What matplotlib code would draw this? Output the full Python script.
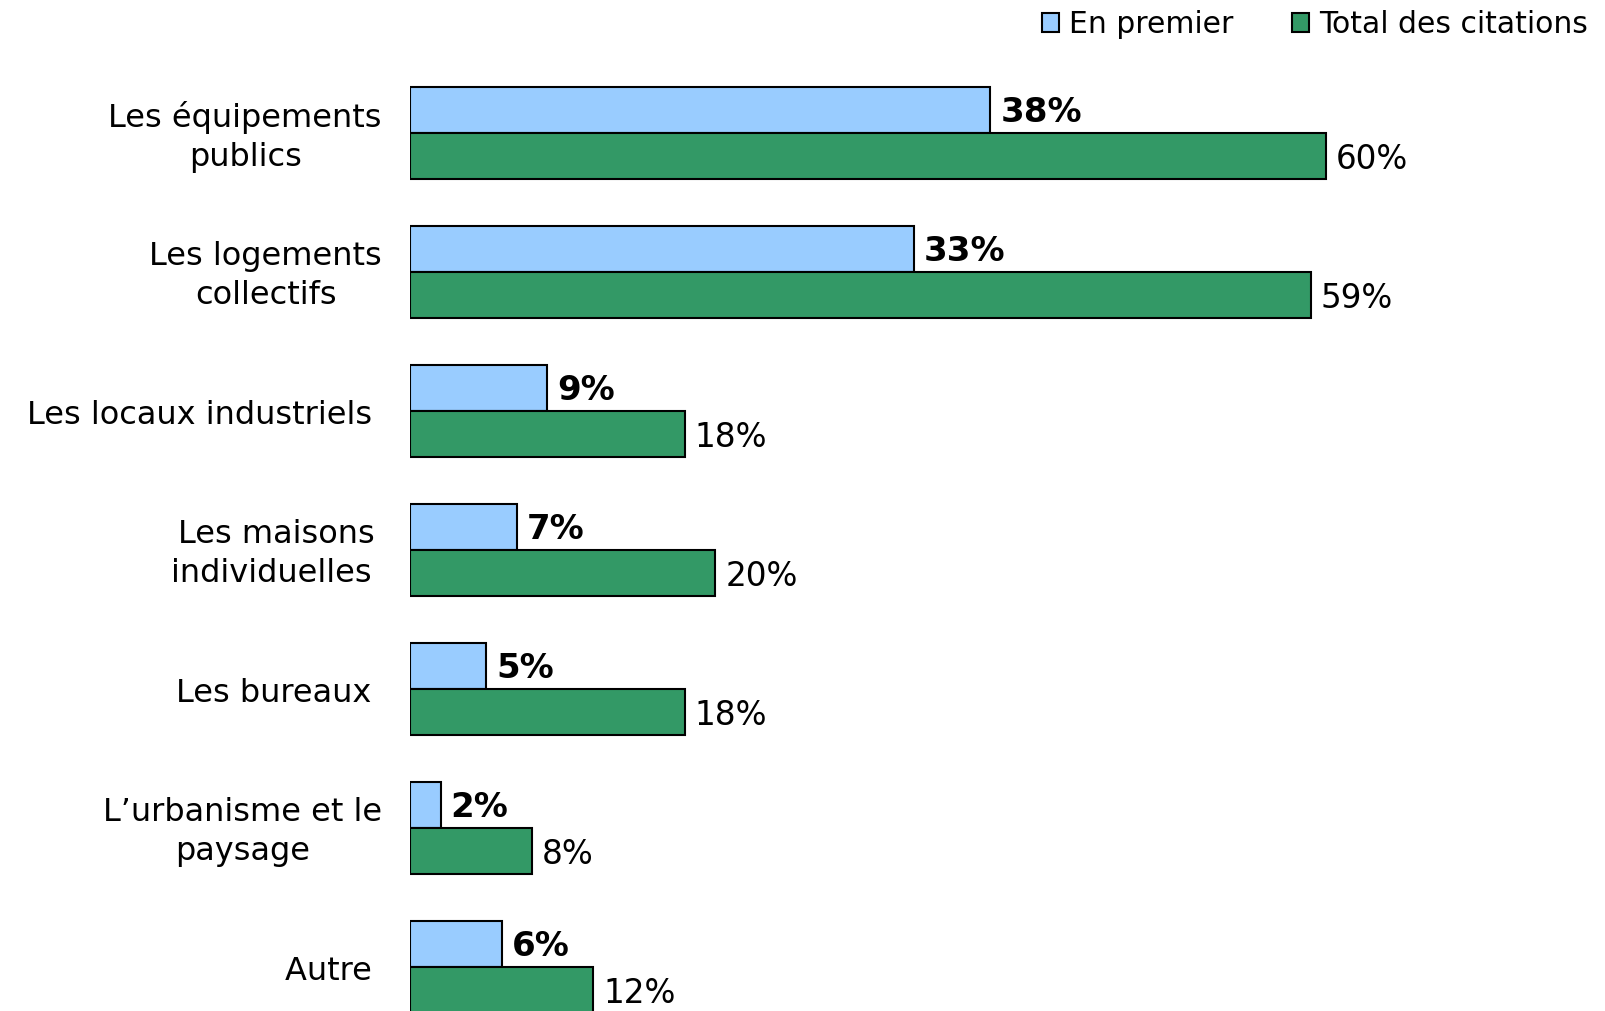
import matplotlib
matplotlib.use("Agg")
import matplotlib.pyplot as plt
from matplotlib.patches import Patch

categories = ["Les équipements\npublics", "Les logements\ncollectifs",
              "Les locaux industriels ", "Les maisons\nindividuelles ",
              "Les bureaux ", "L\u2019urbanisme et le\npaysage", "Autre "]
en_premier = [38, 33, 9, 7, 5, 2, 6]
total_citations = [60, 59, 18, 20, 18, 8, 12]
series_names = ["En premier", "Total des citations"]
colors = ["#99CCFF", "#339966"]

W, H = 1606, 1011
fig = plt.figure(figsize=(W / 100, H / 100), dpi=100)
plt.rcParams['font.family'] = ['DejaVu Sans']

px_per_unit = 15.27
x0 = 410
ax = fig.add_axes([x0 / W, 0, 1 - x0 / W, 1])
ax.set_xlim(0, (W - x0) / px_per_unit)
pitch = 139.0
c0 = 133.0
ax.set_ylim((H - c0) / pitch, -c0 / pitch)
ax.axis("off")

h = 0.33
ys = list(range(len(categories)))
yb = [y - h / 2 for y in ys]
yg = [y + h / 2 for y in ys]
ax.barh(yb, en_premier, height=h, color=colors[0], edgecolor="black", linewidth=1.5)
ax.barh(yg, total_citations, height=h, color=colors[1], edgecolor="black", linewidth=1.5)

off = 10 / px_per_unit
for y, v in zip(yb, en_premier):
    ax.text(v + off, y + 0.02, f"{v}%", va="center", ha="left", fontsize=24.5, fontweight="bold")
for y, v in zip(yg, total_citations):
    ax.text(v + off, y + 0.025, f"{v}%", va="center", ha="left", fontsize=23.5)

for y, lab in zip(ys, categories):
    ax.text(-28 / px_per_unit, y + 0.03, lab, va="center", ha="right", multialignment="center",
            fontsize=23, linespacing=1.32)

handles = [Patch(facecolor=colors[0], edgecolor="black", linewidth=1.5),
           Patch(facecolor=colors[1], edgecolor="black", linewidth=1.5)]
fig.legend(handles, series_names, loc="upper right", bbox_to_anchor=(1.0, 1.008),
           ncol=2, frameon=False, fontsize=21.5, handlelength=0.58, handleheight=0.58,
           handletextpad=0.34, columnspacing=1.95, borderaxespad=0.2)

fig.savefig("out.png", dpi=100)
